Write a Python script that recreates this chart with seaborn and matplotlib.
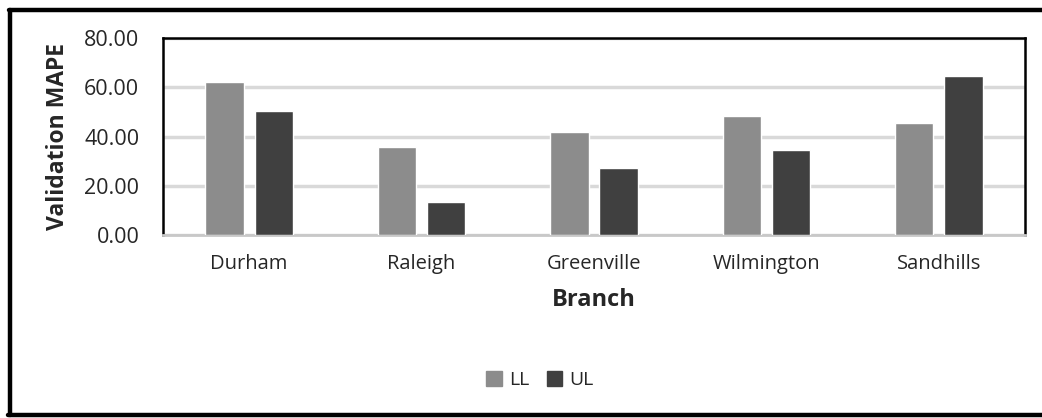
import matplotlib.pyplot as plt
import pandas as pd
import seaborn as sns
from matplotlib.lines import Line2D

sns.set_style("white")
plt.rcParams['font.family'] = ['Open Sans', 'DejaVu Sans']

# data
branches = ['Durham', 'Raleigh', 'Greenville', 'Wilmington', 'Sandhills']
ll = [62.0, 35.7, 41.8, 48.5, 45.5]
ul = [50.5, 13.4, 27.2, 34.5, 64.7]

df = pd.DataFrame({'Branch': branches * 2,
                   'MAPE': ll + ul,
                   'Limit': ['LL'] * 5 + ['UL'] * 5})

fig = plt.figure(figsize=(10.42, 4.18), dpi=100)
ax = fig.add_axes([0.1564, 0.4378, 0.8273, 0.4712])

sns.barplot(df, x='Branch', y='MAPE', hue='Limit',
            palette={'LL': '#8c8c8c', 'UL': '#404040'},
            width=0.57, gap=0.22, saturation=1, ax=ax, zorder=3)

ax.set_ylim(0, 80)
ax.set_yticks([0, 20, 40, 60, 80])
ax.set_yticklabels([f'{v:.2f}' for v in [0, 20, 40, 60, 80]], fontsize=15.5)
ax.tick_params(axis='x', labelsize=14.5, length=0, pad=14)
ax.tick_params(axis='y', length=0, pad=17)
ax.set_xlim(-0.5, 4.5)
ax.yaxis.grid(True, color='#d9d9d9', lw=2.5, zorder=0)
ax.set_axisbelow(True)

for s in ['left', 'top', 'right']:
    ax.spines[s].set_color('black')
    ax.spines[s].set_linewidth(1.8)
ax.spines['bottom'].set_color('#c8c8c8')
ax.spines['bottom'].set_linewidth(2)

ax.set_xlabel('Branch', fontsize=17, fontweight='bold', labelpad=10)
ax.set_ylabel('Validation MAPE', fontsize=16.5, fontweight='bold', labelpad=10)

ax.legend_.remove()
handles = [plt.Rectangle((0, 0), 1, 1, color='#8c8c8c'),
           plt.Rectangle((0, 0), 1, 1, color='#404040')]
fig.legend(handles, ['LL', 'UL'], loc='center', bbox_to_anchor=(0.518, 0.09),
           ncol=2, frameon=False, fontsize=14, handlelength=0.8,
           handleheight=0.8, handletextpad=0.35, columnspacing=0.9)

# outer frame, open on the right
W, H = 1042, 418
for xs, ys in [([9, W], [H - 9.5, H - 9.5]),
               ([9.5, 9.5], [H - 9.5, 3]),
               ([8, W], [3, 3])]:
    fig.add_artist(Line2D([x / W for x in xs], [y / H for y in ys],
                          color='black', lw=3.2, transform=fig.transFigure))

fig.savefig('out.png', dpi=100)
